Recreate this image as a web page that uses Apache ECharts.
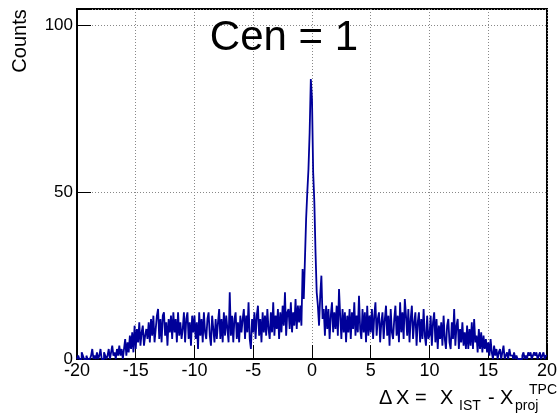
<!DOCTYPE html>
<html>
<head>
<meta charset="utf-8">
<script src="https://cdn.jsdelivr.net/npm/echarts@6/dist/echarts.min.js"></script>
<style>
html,body{margin:0;padding:0;background:#fff;}
#c{width:560px;height:418px;}
</style>
</head>
<body>
<div id="c"></div>
<script>
// Histogram: 400 bins of width 0.1 from -20 to 20
var binLow = -20;
var binWidth = 0.1;
var counts = [
  0,1,0,0,2,1,0,0,1,0,
  0,0,1,3,0,1,0,2,0,1,
  3,0,0,2,1,0,1,3,0,2,
  4,1,2,0,3,1,4,1,3,0,
  3,6,1,5,2,7,3,8,2,10,
  3,9,5,11,4,8,10,4,7,9,
  6,11,5,12,7,13,5,9,13,15,
  6,12,5,13,14,7,11,4,12,8,
  13,6,14,8,12,5,14,7,11,6,
  9,14,5,12,14,6,11,4,13,8,
  13,6,11,3,14,7,12,5,14,8,
  6,12,14,7,4,13,9,5,12,6,
  11,15,6,12,5,14,7,13,9,5,
  20,7,13,5,12,14,6,11,5,13,
  8,12,15,6,13,8,17,6,3,12,
  8,14,6,13,16,7,12,5,14,8,
  13,7,15,9,6,14,8,17,7,13,
  9,15,6,14,8,16,10,20,7,14,
  15,9,17,8,14,10,18,9,16,11,
  16,10,27,18,30,42,50,57,68,84,
  78,56,47,32,20,16,10,19,25,12,
  15,7,16,9,15,6,13,17,8,14,
  9,16,7,21,13,6,15,8,14,5,
  13,8,15,6,14,9,17,7,13,8,
  19,9,6,15,8,14,5,16,7,13,
  8,15,6,13,17,7,12,14,5,11,
  14,6,12,16,7,13,4,15,8,6,
  12,16,7,13,5,17,8,14,6,18,
  13,7,15,5,12,16,6,11,14,4,
  11,14,5,12,6,15,7,4,13,6,
  7,13,4,11,14,5,12,3,10,6,
  11,4,13,6,3,10,12,5,3,11,
  6,15,4,10,12,3,9,5,11,4,
  8,3,10,3,9,4,11,3,12,5,
  7,2,9,3,8,2,7,3,6,2,
  5,1,6,2,0,4,1,3,0,2,
  3,0,2,4,0,1,2,0,3,1,
  1,0,2,0,1,0,0,0,0,1,
  2,0,1,0,2,1,2,0,1,2,
  1,2,0,1,2,0,1,2,0,1
];
var xTicks = [-20,-15,-10,-5,0,5,10,15,20];
var yTicks = [0,50,100];
var titleText = 'Cen = 1';
var yTitle = 'Counts';

var stepData = [];
for (var i = 0; i < counts.length; i++) {
  stepData.push([binLow + i * binWidth, counts[i]]);
}
stepData.push([binLow + counts.length * binWidth, counts[counts.length - 1]]);

var chart = echarts.init(document.getElementById('c'), null, {renderer: 'canvas'});
var FONT = 'Liberation Sans, Arial, Helvetica, sans-serif';
function t(x, y, s, size) {
  return {type: 'text', x: x, y: y, z: 10,
    style: {text: s, fontSize: size, fontFamily: FONT, fill: '#000', textAlign: 'left', textVerticalAlign: 'middle'}};
}
chart.setOption({
  animation: false,
  backgroundColor: '#fff',
  grid: {left: 77, right: 10, top: 9, bottom: 59, show: true, borderColor: '#000', borderWidth: 2, backgroundColor: 'transparent'},
  xAxis: {
    type: 'value', min: -20, max: 20, interval: 5,
    axisLine: {show: true, onZero: false, lineStyle: {color: '#000', width: 2}},
    axisTick: {show: true, inside: true, length: 14, lineStyle: {color: '#000', width: 1}},
    splitLine: {show: true, lineStyle: {color: '#888', type: [1, 2], width: 1}},
    axisLabel: {color: '#000', fontSize: 18, fontFamily: FONT, margin: 3,
      formatter: function (v) { return xTicks.indexOf(v) >= 0 ? String(v) : ''; }}
  },
  yAxis: {
    type: 'value', min: 0, max: 105, interval: 50,
    axisLine: {show: true, onZero: false, lineStyle: {color: '#000', width: 2}},
    axisTick: {show: true, inside: true, length: 14, lineStyle: {color: '#000', width: 1}},
    splitLine: {show: true, lineStyle: {color: '#888', type: [1, 2], width: 1}},
    axisLabel: {color: '#000', fontSize: 17, fontFamily: FONT, margin: 4,
      formatter: function (v) { return yTicks.indexOf(v) >= 0 ? String(v) : ''; }}
  },
  series: [{
    type: 'line', step: 'end', data: stepData, symbol: 'none',
    lineStyle: {color: '#000099', width: 1.8}, z: 3
  }],
  graphic: [
    {type: 'text', x: 284, y: 38, z: 10,
      style: {text: titleText, fontSize: 42, fontFamily: FONT, fill: '#000', textAlign: 'center', textVerticalAlign: 'middle'}},
    {type: 'text', x: 20, y: 41, rotation: Math.PI / 2,
      style: {text: yTitle, fontSize: 20, fontFamily: FONT, fill: '#000', textAlign: 'center', textVerticalAlign: 'middle'}},
    t(379, 398, '\u0394', 20),
    t(396, 398, 'X', 20),
    t(415, 398, '=', 20),
    t(440, 398, 'X', 20),
    t(459, 406, 'IST', 14),
    t(488, 398, '-', 20),
    t(500, 398, 'X', 20),
    t(515, 406, 'proj', 14),
    t(529, 390, 'TPC', 14)
  ]
});
</script>
</body>
</html>
